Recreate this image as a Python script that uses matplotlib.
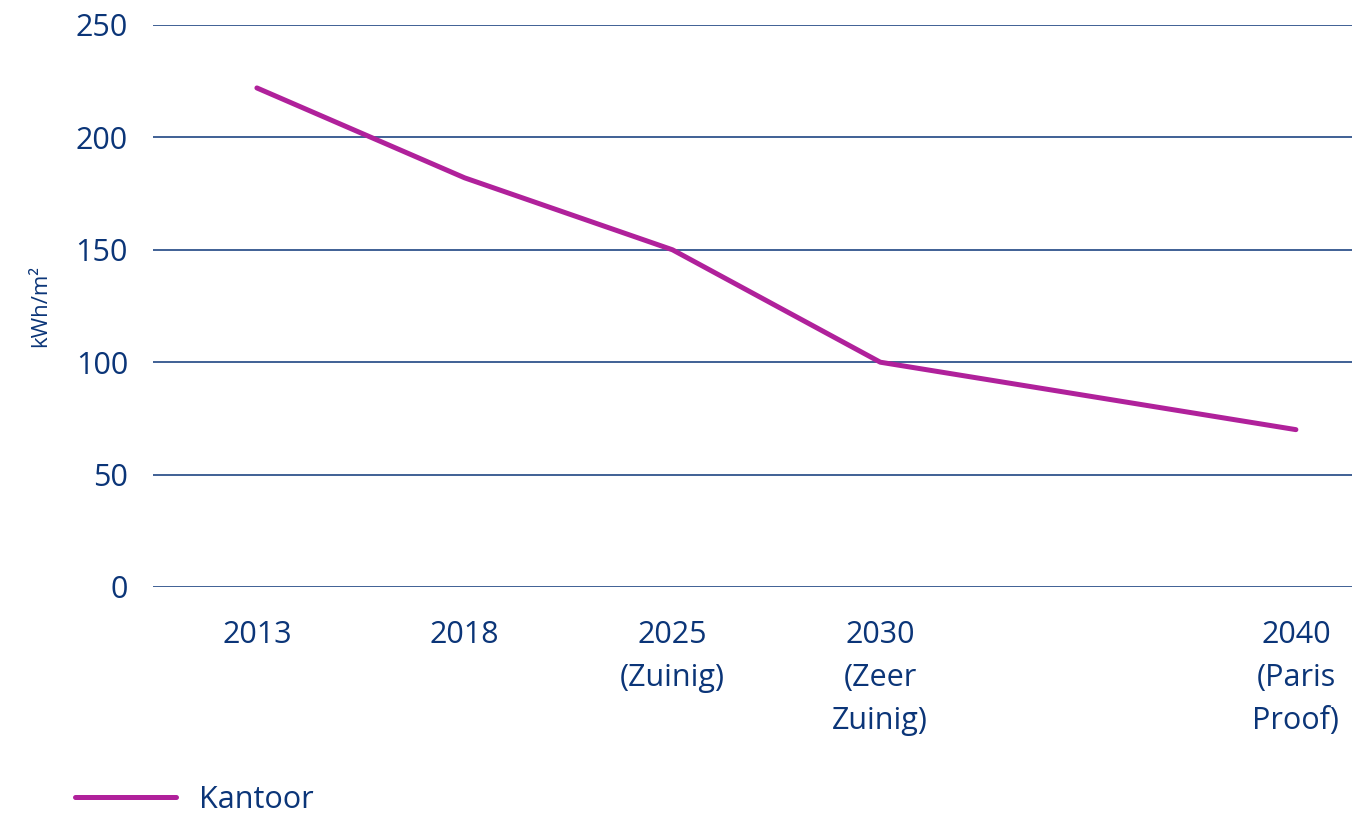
import numpy as np
import matplotlib
matplotlib.use("Agg")
import matplotlib.pyplot as plt

categories = ["2013", "2018", "2025\n(Zuinig)", "2030\n(Zeer\nZuinig)", "", "2040\n(Paris\nProof)"]
kantoor = [222, 182, 150, 100, np.nan, 70]
y_ticks = [0, 50, 100, 150, 200, 250]
series_name = "Kantoor"
y_label = "kWh/m²"

NAVY = "#0b3578"
MAGENTA = "#b0219b"

plt.rcParams["font.family"] = ["Open Sans", "DejaVu Sans"]

fig = plt.figure(figsize=(13.52, 8.18), dpi=100)
ax = fig.add_axes([153/1352, 1-587/818, 1-153/1352, (587-25)/818])

x = np.arange(len(categories))
vals = np.array(kantoor, dtype=float)
mask = ~np.isnan(vals)
ax.plot(x[mask], vals[mask], color=MAGENTA, lw=3.6, solid_capstyle="round",
        solid_joinstyle="round", label=series_name, zorder=3)

ax.set_ylim(0, 250)
ax.set_yticks(y_ticks)
ax.set_xlim(-0.5, 5.27)
ax.set_xticks(x)
ax.set_xticklabels(categories, linespacing=1.56)
ax.grid(axis="y", color=NAVY, lw=1.1)
ax.set_axisbelow(True)
for s in ax.spines.values():
    s.set_visible(False)
ax.tick_params(axis="both", length=0, labelsize=22, labelcolor=NAVY)
ax.tick_params(axis="y", pad=18)
ax.tick_params(axis="x", pad=24)
ax.set_ylabel(y_label, color=NAVY, fontsize=16, labelpad=18)

fig.legend(loc="center left", bbox_to_anchor=(75/1352, 1-800/818), frameon=False,
           borderpad=0, borderaxespad=0, handlelength=3.3, handletextpad=0.75,
           fontsize=22, labelcolor=NAVY)

fig.savefig("out.png", dpi=100)
